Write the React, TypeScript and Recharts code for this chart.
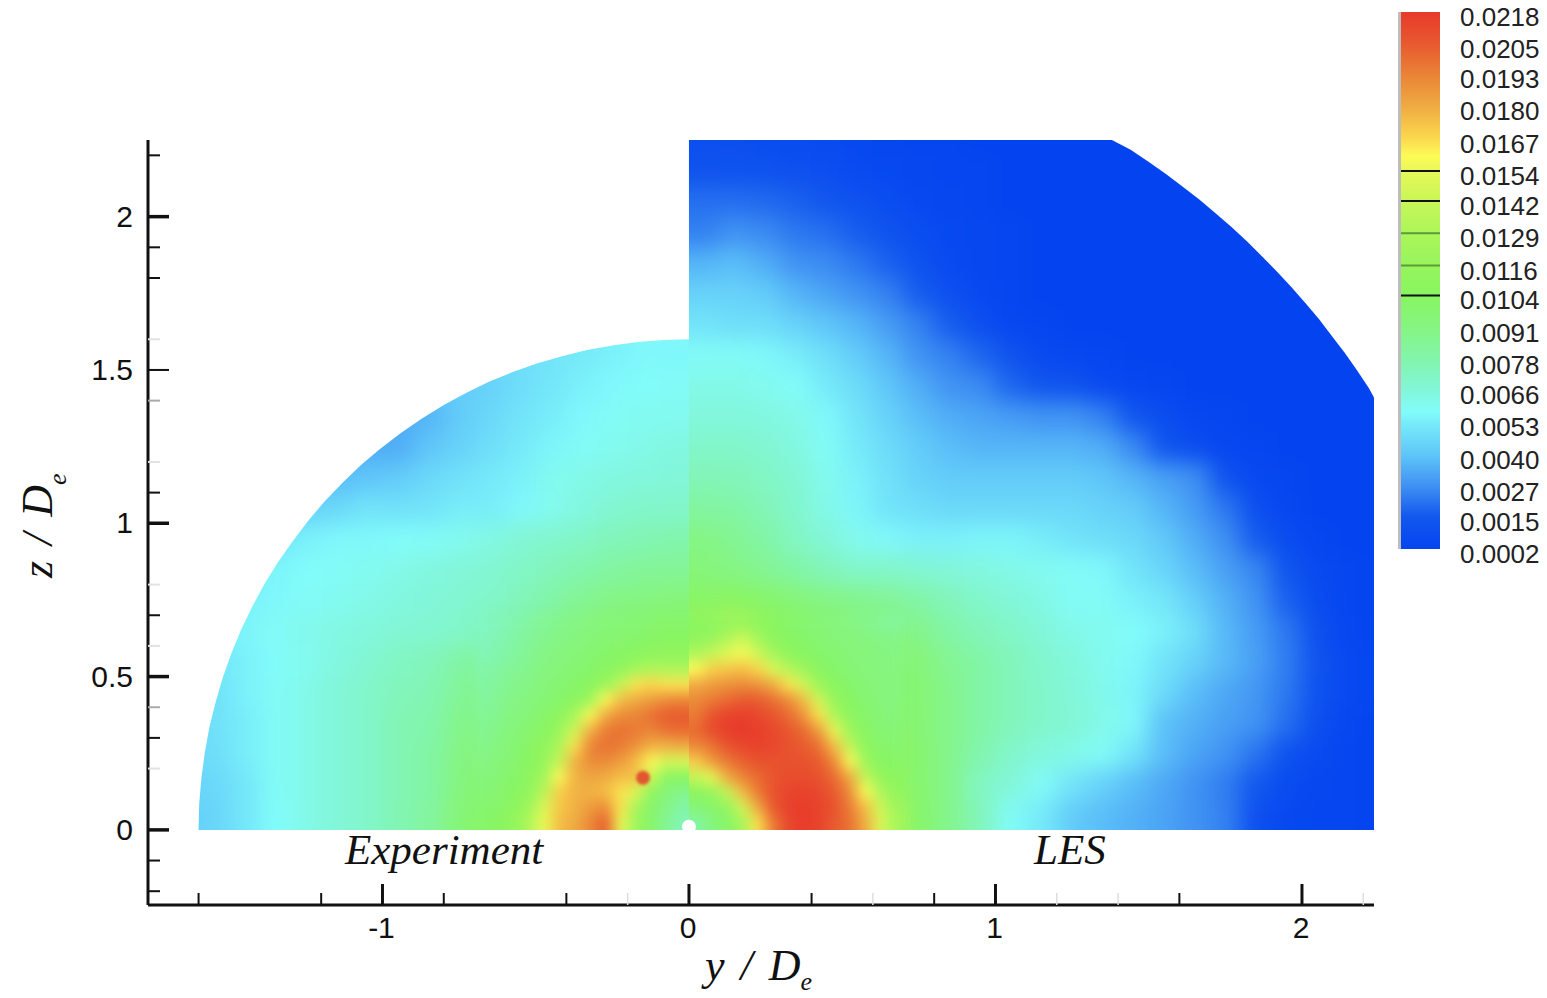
import React from 'react';
import { ScatterChart, Scatter, XAxis, YAxis, ReferenceDot, BarChart, Bar, ReferenceLine } from 'recharts';

// colour bar levels, top to bottom
const levels = [0.0218, 0.0205, 0.0193, 0.018, 0.0167, 0.0154, 0.0142, 0.0129, 0.0116, 0.0104, 0.0091, 0.0078, 0.0066, 0.0053, 0.004, 0.0027, 0.0015, 0.0002];
const legendDarkLines = [0.0154, 0.0142, 0.0104];
const legendMidLines = [0.0129, 0.0116];

// colour map (values in units of 1e-4)
const colorValues = [218, 205, 193, 180, 167, 160, 154, 142, 129, 116, 104, 91, 78, 66, 57, 53, 40, 27, 15, 2];
const colorStops = ['#e8392b', '#e85a2f', '#ea8236', '#efab42', '#fbd94d', '#fdfb58', '#e6f856', '#c8f658', '#acf65a', '#96f55c', '#88f560', '#85f582', '#82f5ad', '#82f6d8', '#82fcfb', '#78edf9', '#5fc6f9', '#3f8ff2', '#1258ee', '#0444f0'];

// axis ticks
const xStrong = [-1, 0, 1, 2];
const xMinor = [-1.6, -1.2, -0.8, -0.4, 0.4, 0.8, 1.6];
const xFaint = [-0.2, 0.6, 1.2, 1.4, 2.2];
const zStrong = [0, 0.5, 1, 1.5, 2];
const zMinor = [-0.2, -0.1, 0.3, 0.7, 1.1, 1.8, 1.9, 2.2];
const zGray = [0.4, 1.4];
const zFaint = [0.2, 0.6, 0.8, 1.2, 1.6];

// field values in units of 1e-4, one list per z row, 0.1 spacing
const expCols = [-0.05, -0.15, -0.25, -0.35, -0.45, -0.55, -0.65, -0.75, -0.85, -0.95, -1.05, -1.15, -1.25, -1.35, -1.45, -1.55, -1.65];
const expZs = [0.05, 0.15, 0.25, 0.35, 0.45, 0.55, 0.65, 0.75, 0.85, 0.95, 1.05, 1.15, 1.25, 1.35, 1.45, 1.55];
const exp005 = [75, 115, 195, 172, 165, 130, 100, 95, 82, 76, 70, 66, 62, 57, 51, 45, 43];
const exp015 = [85, 130, 180, 180, 160, 115, 100, 92, 80, 76, 70, 66, 62, 58, 51, 46, 44];
const exp025 = [165, 190, 185, 185, 125, 105, 98, 90, 80, 76, 70, 66, 62, 58, 53, 48, 46];
const exp035 = [205, 200, 195, 160, 115, 100, 96, 88, 78, 76, 70, 66, 62, 58, 53, 49, 46];
const exp045 = [150, 165, 165, 125, 108, 98, 92, 84, 76, 74, 70, 66, 62, 58, 54, 49, 47];
const exp055 = [115, 120, 115, 105, 100, 95, 88, 80, 74, 72, 68, 64, 60, 57, 54, 50, 48];
const exp065 = [100, 98, 96, 92, 85, 80, 75, 70, 68, 67, 65, 63, 61, 58, 55, 52, 50];
const exp075 = [94, 92, 90, 86, 80, 74, 70, 68, 66, 64, 62, 60, 58, 56, 54, 51, 48];
const exp085 = [85, 84, 82, 78, 74, 71, 68, 66, 64, 62, 60, 58, 57, 55, 53, 50, 48];
const exp095 = [78, 76, 74, 71, 69, 67, 63, 60, 58, 57, 56, 56, 54, 50, 48, 48, 48];
const exp105 = [70, 70, 68, 64, 60, 56, 53, 53, 50, 49, 50, 46, 44, 44, 44, 44, 44];
const exp115 = [66, 65, 64, 62, 60, 54, 52, 49, 46, 42, 40, 38, 38, 38, 38, 38, 38];
const exp125 = [64, 62, 60, 58, 55, 52, 48, 44, 40, 34, 34, 34, 34, 34, 34, 34, 34];
const exp135 = [60, 60, 58, 56, 53, 50, 46, 42, 36, 34, 34, 34, 34, 34, 34, 34, 34];
const exp145 = [58, 57, 56, 54, 51, 48, 44, 42, 40, 40, 40, 40, 40, 40, 40, 40, 40];
const exp155 = [56, 56, 54, 52, 50, 48, 46, 44, 44, 44, 44, 44, 44, 44, 44, 44, 44];
const expRows = [exp005, exp015, exp025, exp035, exp045, exp055, exp065, exp075, exp085, exp095, exp105, exp115, exp125, exp135, exp145, exp155];

const lesCols = [0.05, 0.15, 0.25, 0.35, 0.45, 0.55, 0.65, 0.75, 0.85, 0.95, 1.05, 1.15, 1.25, 1.35, 1.45, 1.55, 1.65, 1.75, 1.85, 1.95, 2.05, 2.15, 2.25];
const lesZs = [0.05, 0.15, 0.25, 0.35, 0.45, 0.55, 0.65, 0.75, 0.85, 0.95, 1.05, 1.15, 1.25, 1.35, 1.45, 1.55, 1.65, 1.75, 1.85, 1.95, 2.05, 2.15, 2.25];
const les005 = [85, 115, 185, 216, 203, 175, 130, 100, 88, 74, 58, 52, 42, 38, 35, 32, 28, 24, 10, 5, 3, 3, 2];
const les015 = [95, 120, 190, 214, 208, 160, 118, 98, 88, 72, 66, 58, 50, 44, 38, 33, 28, 23, 15, 7, 4, 3, 2];
const les025 = [180, 205, 212, 212, 205, 150, 112, 98, 88, 78, 70, 65, 62, 58, 50, 38, 32, 28, 21, 11, 6, 3, 2];
const les035 = [212, 217, 216, 208, 170, 125, 110, 96, 88, 80, 74, 70, 67, 62, 56, 39, 35, 31, 28, 20, 9, 4, 2];
const les045 = [195, 205, 195, 165, 125, 100, 100, 96, 88, 80, 74, 70, 66, 61, 55, 47, 38, 33, 29, 22, 11, 5, 3];
const les055 = [150, 185, 150, 118, 105, 98, 98, 95, 86, 80, 74, 69, 65, 60, 56, 50, 44, 37, 31, 23, 12, 5, 3];
const les065 = [125, 140, 115, 102, 98, 92, 93, 88, 80, 74, 71, 66, 62, 60, 57, 54, 48, 37, 30, 22, 10, 4, 2];
const les075 = [102, 105, 100, 95, 90, 88, 85, 80, 74, 70, 66, 63, 58, 58, 54, 51, 43, 35, 28, 17, 7, 3, 2];
const les085 = [94, 90, 86, 80, 74, 70, 70, 68, 66, 64, 62, 60, 58, 56, 50, 45, 38, 31, 25, 13, 6, 3, 2];
const les095 = [90, 86, 80, 72, 66, 60, 56, 54, 54, 55, 55, 53, 50, 48, 46, 41, 34, 27, 16, 7, 3, 2, 2];
const les105 = [82, 80, 75, 69, 62, 55, 50, 48, 46, 46, 46, 46, 46, 44, 42, 36, 30, 22, 9, 4, 2, 2, 2];
const les115 = [75, 74, 72, 67, 60, 54, 49, 44, 42, 42, 42, 42, 42, 40, 36, 31, 27, 12, 5, 3, 2, 2, 2];
const les125 = [70, 70, 68, 64, 58, 52, 47, 42, 38, 36, 36, 36, 36, 34, 26, 14, 8, 4, 3, 2, 2, 2, 2];
const les135 = [65, 65, 64, 62, 56, 50, 44, 38, 34, 32, 30, 28, 28, 24, 14, 8, 4, 3, 2, 2, 2, 2, 2];
const les145 = [62, 62, 60, 57, 52, 47, 40, 34, 28, 26, 18, 14, 12, 6, 4, 3, 2, 2, 2, 2, 2, 2, 2];
const les155 = [58, 58, 56, 53, 48, 42, 36, 28, 24, 18, 12, 6, 4, 3, 2, 2, 2, 2, 2, 2, 2, 2, 2];
const les165 = [50, 48, 48, 44, 40, 36, 30, 24, 16, 9, 4, 3, 2, 2, 2, 2, 2, 2, 2, 2, 2, 2, 2];
const les175 = [44, 44, 42, 36, 32, 28, 24, 16, 10, 5, 3, 2, 2, 2, 2, 2, 2, 2, 2, 2, 2, 2, 2];
const les185 = [36, 38, 34, 28, 26, 22, 17, 11, 6, 4, 3, 2, 2, 2, 2, 2, 2, 2, 2, 2, 2, 2, 2];
const les195 = [24, 28, 26, 22, 20, 16, 12, 8, 5, 4, 3, 2, 2, 2, 2, 2, 2, 2, 2, 2, 2, 2, 2];
const les205 = [20, 20, 19, 17, 14, 11, 8, 5, 4, 3, 2, 2, 2, 2, 2, 2, 2, 2, 2, 2, 2, 2, 2];
const les215 = [12, 11, 11, 10, 9, 6, 5, 4, 3, 3, 2, 2, 2, 2, 2, 2, 2, 2, 2, 2, 2, 2, 2];
const les225 = [9, 9, 8, 7, 6, 5, 4, 3, 3, 2, 2, 2, 2, 2, 2, 2, 2, 2, 2, 2, 2, 2, 2];
const lesRows = [les005, les015, les025, les035, les045, les055, les065, les075, les085, les095, les105, les115, les125, les135, les145, les155, les165, les175, les185, les195, les205, les215, les225];

// finer readings around the ring, 0.05 spacing
const fineZs = [0.025, 0.075, 0.125, 0.175, 0.225, 0.275, 0.325, 0.375, 0.425, 0.475, 0.525, 0.575, 0.625, 0.675];
const fineLesCols = [0.025, 0.075, 0.125, 0.175, 0.225, 0.275, 0.325, 0.375, 0.425, 0.475, 0.525, 0.575, 0.625, 0.675];
const fineLes0 = [80, 92, 100, 125, 165, 195, 212, 217, 214, 205, 198, 180, 150, 125];
const fineLes1 = [95, 100, 110, 145, 180, 205, 215, 217, 214, 208, 195, 175, 145, 120];
const fineLes2 = [105, 115, 140, 175, 195, 208, 213, 215, 212, 205, 190, 160, 130, 112];
const fineLes3 = [140, 155, 180, 192, 200, 207, 210, 210, 208, 200, 180, 140, 115, 105];
const fineLes4 = [170, 185, 195, 203, 208, 208, 208, 208, 205, 190, 160, 120, 105, 100];
const fineLes5 = [190, 197, 207, 212, 215, 212, 208, 205, 198, 175, 140, 110, 100, 97];
const fineLes6 = [200, 210, 216, 218, 216, 212, 207, 200, 185, 155, 120, 105, 97, 95];
const fineLes7 = [195, 208, 214, 216, 212, 208, 200, 188, 165, 130, 108, 100, 95, 93];
const fineLes8 = [190, 195, 200, 205, 205, 198, 190, 175, 145, 115, 104, 97, 94, 92];
const fineLes9 = [180, 185, 188, 190, 188, 180, 165, 145, 120, 105, 100, 95, 94, 92];
const fineLes10 = [160, 170, 172, 175, 168, 150, 135, 120, 105, 100, 96, 94, 93, 92];
const fineLes11 = [130, 140, 152, 158, 145, 125, 110, 104, 100, 97, 95, 94, 92, 90];
const fineLes12 = [112, 118, 130, 145, 125, 110, 104, 100, 97, 95, 94, 92, 90, 90];
const fineLes13 = [105, 108, 112, 115, 110, 104, 100, 97, 95, 93, 91, 88, 85, 82];
const fineLesRows = [fineLes0, fineLes1, fineLes2, fineLes3, fineLes4, fineLes5, fineLes6, fineLes7, fineLes8, fineLes9, fineLes10, fineLes11, fineLes12, fineLes13];

const fineExpCols = [-0.025, -0.075, -0.125, -0.175, -0.225, -0.275, -0.325, -0.375, -0.425, -0.475, -0.525, -0.575, -0.625, -0.675];
const fineExp0 = [75, 85, 100, 120, 155, 205, 190, 180, 175, 155, 130, 112, 105, 100];
const fineExp1 = [80, 90, 100, 125, 165, 190, 185, 178, 172, 150, 120, 108, 100, 97];
const fineExp2 = [88, 95, 108, 150, 165, 175, 178, 178, 170, 135, 112, 103, 98, 95];
const fineExp3 = [105, 105, 145, 175, 175, 180, 182, 178, 160, 122, 108, 100, 96, 93];
const fineExp4 = [150, 145, 160, 175, 185, 190, 190, 178, 140, 115, 105, 98, 94, 90];
const fineExp5 = [180, 178, 178, 188, 195, 198, 192, 165, 128, 112, 102, 96, 92, 88];
const fineExp6 = [200, 198, 192, 195, 198, 195, 178, 145, 118, 105, 98, 94, 90, 86];
const fineExp7 = [205, 205, 198, 192, 190, 180, 160, 125, 108, 100, 95, 92, 88, 84];
const fineExp8 = [192, 190, 185, 180, 175, 160, 120, 106, 100, 96, 92, 90, 86, 82];
const fineExp9 = [165, 165, 168, 165, 140, 118, 105, 100, 97, 94, 90, 88, 84, 80];
const fineExp10 = [130, 130, 132, 125, 112, 105, 100, 97, 94, 92, 88, 85, 82, 78];
const fineExp11 = [112, 112, 110, 106, 102, 100, 97, 95, 92, 90, 86, 82, 78, 75];
const fineExp12 = [104, 104, 102, 100, 98, 97, 95, 92, 90, 88, 84, 80, 76, 73];
const fineExp13 = [100, 100, 98, 96, 95, 94, 92, 90, 88, 85, 81, 77, 74, 71];
const fineExpRows = [fineExp0, fineExp1, fineExp2, fineExp3, fineExp4, fineExp5, fineExp6, fineExp7, fineExp8, fineExp9, fineExp10, fineExp11, fineExp12, fineExp13];

// outlines of the two measured regions
const expOutlineY = [0, -1.6, -1.598, -1.591, -1.58, -1.565, -1.545, -1.522, -1.494, -1.462, -1.426, -1.386, -1.342, -1.294, -1.243, -1.189, -1.131, -1.071, -1.007, -0.94, -0.871, -0.8, -0.726, -0.651, -0.573, -0.494, -0.414, -0.333, -0.25, -0.167, -0.084, 0];
const expOutlineZ = [0, 0, 0.084, 0.167, 0.25, 0.333, 0.414, 0.494, 0.573, 0.651, 0.726, 0.8, 0.871, 0.94, 1.007, 1.071, 1.131, 1.189, 1.243, 1.294, 1.342, 1.386, 1.426, 1.462, 1.494, 1.522, 1.545, 1.565, 1.58, 1.591, 1.598, 1.6];
const lesOutlineY = [0, 0, 1.38, 1.441, 1.498, 1.555, 1.61, 1.665, 1.718, 1.77, 1.821, 1.87, 1.918, 1.966, 2.011, 2.056, 2.098, 2.14, 2.18, 2.218, 2.235, 2.235];
const lesOutlineZ = [0, 2.25, 2.25, 2.218, 2.18, 2.14, 2.098, 2.056, 2.011, 1.966, 1.919, 1.87, 1.821, 1.77, 1.718, 1.665, 1.61, 1.555, 1.498, 1.441, 1.41, 0];

const SANS = '"Liberation Sans", Arial, sans-serif';
const SERIF = '"Liberation Serif", "Times New Roman", serif';
const PX_PER_UNIT = 306.5;
const EDGE_PX = 60;

const hexToRgb = (hex: string) => [1, 3, 5].map((i) => parseInt(hex.slice(i, i + 2), 16));

// colour for a field value, blended between the stops of the bar
const colorOf = (value: number) => {
  for (let i = 0; i < colorValues.length - 1; i++) {
    if (value <= colorValues[i] && value >= colorValues[i + 1]) {
      const t = (value - colorValues[i + 1]) / (colorValues[i] - colorValues[i + 1]);
      const hi = hexToRgb(colorStops[i]);
      const lo = hexToRgb(colorStops[i + 1]);
      const c = hi.map((h, k) => Math.round(lo[k] + (h - lo[k]) * t));
      return `rgb(${c[0]},${c[1]},${c[2]})`;
    }
  }
  return value > colorValues[0] ? colorStops[0] : colorStops[colorStops.length - 1];
};

// fine tables only run on at the axis sides, the coarse ones on all four
const buildCells = (cols: number[], zs: number[], rows: number[][], step: number, allEdges: boolean) =>
  rows.flatMap((row, r) =>
    row.map((value, c) => ({
      y: cols[c],
      z: zs[r],
      value,
      step,
      first: c === 0,
      last: allEdges && c === row.length - 1,
      bottom: r === 0,
      top: allEdges && r === rows.length - 1,
    })),
  );

const zipOutline = (ys: number[], zs: number[]) => ys.map((y, i) => ({ y, z: zs[i] }));

const expCells = buildCells(expCols, expZs, expRows, 0.1, true);
const lesCells = buildCells(lesCols, lesZs, lesRows, 0.1, true);
const fineExpCells = buildCells(fineExpCols, fineZs, fineExpRows, 0.05, false);
const fineLesCells = buildCells(fineLesCols, fineZs, fineLesRows, 0.05, false);
const legendData = [{ name: 'levels', range: [levels[levels.length - 1], levels[0]] }];

// each cell is a rect; cells on the table edge run on outward so the blur does not fade there
const FieldCell = ({ cx, cy, payload }: any) => {
  const half = (payload.step * PX_PER_UNIT) / 2 + 0.5;
  const leftEdge = payload.y < 0 ? payload.last : payload.first;
  const rightEdge = payload.y < 0 ? payload.first : payload.last;
  const x0 = cx - half - (leftEdge ? EDGE_PX : 0);
  const x1 = cx + half + (rightEdge ? EDGE_PX : 0);
  const y0 = cy - half - (payload.top ? EDGE_PX : 0);
  const y1 = cy + half + (payload.bottom ? EDGE_PX : 0);
  return <rect x={x0} y={y0} width={x1 - x0} height={y1 - y0} fill={colorOf(payload.value)} />;
};

const clipLine = (id: string) => (props: any) => (
  <clipPath id={id}>
    <path d={'M' + props.points.map((p: any) => `${p.x},${p.y}`).join('L') + 'Z'} />
  </clipPath>
);

const XTick = ({ x, y, payload }: any) => {
  const v = payload.value;
  const strong = xStrong.includes(v);
  const faint = xFaint.includes(v);
  return (
    <g>
      <line x1={x} x2={x} y1={y} y2={y - (strong ? 21 : 12)} stroke={faint ? '#dddddd' : '#111111'} strokeWidth={strong ? 3 : faint ? 1.5 : 2} />
      {strong && (
        <text x={x - 1} y={y + 33} textAnchor="middle" fontFamily={SANS} fontSize={30} fill="#111111">
          {v}
        </text>
      )}
    </g>
  );
};

const ZTick = ({ x, y, payload }: any) => {
  const v = payload.value;
  const strong = zStrong.includes(v);
  const thick = v === 0 || v === 1 || v === 2 || v === 0.5;
  const color = zFaint.includes(v) ? '#e2e2e2' : zGray.includes(v) ? '#aaaaaa' : '#111111';
  return (
    <g>
      <line x1={x} x2={x + (strong ? 21 : 12)} y1={y} y2={y} stroke={color} strokeWidth={thick ? 3.5 : 2} />
      {strong && (
        <text x={x - 15} y={y + 10} textAnchor="end" fontFamily={SANS} fontSize={30} fill="#111111">
          {v}
        </text>
      )}
    </g>
  );
};

const LegendTick = ({ x, y, payload }: any) => (
  <text x={x} y={y + 14} fontFamily={SANS} fontSize={26} fill="#222222">
    {payload.value.toFixed(4)}
  </text>
);

const FieldChart = () => (
  <ScatterChart width={1547} height={998} margin={{ top: 140, right: 173, bottom: 33, left: 48 }}>
    <defs>
      <filter id="coarseBlur" filterUnits="userSpaceOnUse" x={0} y={0} width={1547} height={998} colorInterpolationFilters="sRGB">
        <feGaussianBlur stdDeviation={11} />
      </filter>
      <filter id="fineBlur" filterUnits="userSpaceOnUse" x={0} y={0} width={1547} height={998} colorInterpolationFilters="sRGB">
        <feGaussianBlur stdDeviation={7} />
      </filter>
    </defs>
    <XAxis
      type="number"
      dataKey="y"
      domain={[-1.765, 2.235]}
      allowDataOverflow
      ticks={[...xStrong, ...xMinor, ...xFaint]}
      interval={0}
      height={60}
      tickSize={0}
      tickMargin={0}
      tick={<XTick />}
      axisLine={{ stroke: '#111111', strokeWidth: 3 }}
      tickLine={false}
    />
    <YAxis
      type="number"
      dataKey="z"
      domain={[-0.245, 2.25]}
      allowDataOverflow
      ticks={[...zStrong, ...zMinor, ...zGray, ...zFaint]}
      interval={0}
      width={100}
      tickSize={0}
      tickMargin={0}
      tick={<ZTick />}
      axisLine={{ stroke: '#111111', strokeWidth: 3 }}
      tickLine={false}
    />
    <Scatter data={zipOutline(expOutlineY, expOutlineZ)} line={clipLine('expClip')} shape={() => null} isAnimationActive={false} />
    <Scatter data={zipOutline(lesOutlineY, lesOutlineZ)} line={clipLine('lesClip')} shape={() => null} isAnimationActive={false} />
    <Scatter className="field-exp" data={expCells} shape={(p: any) => <FieldCell {...p} />} isAnimationActive={false} />
    <Scatter className="field-les" data={lesCells} shape={(p: any) => <FieldCell {...p} />} isAnimationActive={false} />
    <Scatter className="fine-exp" data={fineExpCells} shape={(p: any) => <FieldCell {...p} />} isAnimationActive={false} />
    <Scatter className="fine-les" data={fineLesCells} shape={(p: any) => <FieldCell {...p} />} isAnimationActive={false} />
    <ReferenceDot className="red-spot" x={-0.15} y={0.17} r={7} fill="#e2552f" stroke="none" ifOverflow="visible" />
    <ReferenceDot x={0} y={0.01} r={7} fill="#ffffff" stroke="none" ifOverflow="visible" />
    <text x={345} y={864} fontFamily={SERIF} fontStyle="italic" fontSize={43} fill="#111111">
      Experiment
    </text>
    <text x={1034} y={864} fontFamily={SERIF} fontStyle="italic" fontSize={43} fill="#111111">
      LES
    </text>
    <text x={705} y={980} fontFamily={SERIF} fontStyle="italic" fontSize={44} wordSpacing={5} fill="#111111">
      y / D
      <tspan dy={10} fontSize={26}>
        e
      </tspan>
    </text>
    <text transform="rotate(-90 52 578)" x={52} y={578} fontFamily={SERIF} fontStyle="italic" fontSize={44} wordSpacing={5} fill="#111111">
      z / D
      <tspan dy={14} fontSize={26}>
        e
      </tspan>
    </text>
  </ScatterChart>
);

const LegendChart = () => (
  <BarChart width={149} height={998} data={legendData} barCategoryGap={0} margin={{ top: 12, right: 0, bottom: 449, left: 3 }}>
    <defs>
      <linearGradient id="levelGradient" x1="0" y1="0" x2="0" y2="1">
        {colorStops.map((color, i) => (
          <stop key={color} offset={(colorValues[0] - colorValues[i]) / (colorValues[0] - colorValues[colorValues.length - 1])} stopColor={color} />
        ))}
      </linearGradient>
    </defs>
    <XAxis dataKey="name" hide />
    <YAxis
      orientation="right"
      type="number"
      domain={[levels[levels.length - 1], levels[0]]}
      ticks={levels}
      interval={0}
      width={107}
      tickSize={0}
      tickMargin={20}
      tick={<LegendTick />}
      axisLine={false}
      tickLine={false}
    />
    <Bar dataKey="range" fill="url(#levelGradient)" isAnimationActive={false} />
    {legendDarkLines.map((v) => (
      <ReferenceLine key={v} y={v} stroke="#111111" strokeWidth={2} />
    ))}
    {legendMidLines.map((v) => (
      <ReferenceLine key={v} y={v} stroke="#5f9a3a" strokeWidth={2} />
    ))}
    <rect x={0} y={12} width={3} height={537} fill="#bdbdbd" />
  </BarChart>
);

export default function App() {
  return (
    <div style={{ position: 'absolute', left: 0, top: 0, width: 1547, height: 998, background: '#ffffff', overflow: 'hidden' }}>
      <style>{`
        .field-exp { filter: url(#coarseBlur); clip-path: url(#expClip); }
        .field-les { filter: url(#coarseBlur); clip-path: url(#lesClip); }
        .fine-exp { filter: url(#fineBlur); clip-path: url(#expClip); }
        .fine-les { filter: url(#fineBlur); clip-path: url(#lesClip); }
        .red-spot { filter: blur(1.5px); }
      `}</style>
      <FieldChart />
      <div style={{ position: 'absolute', left: 1398, top: 0 }}>
        <LegendChart />
      </div>
    </div>
  );
}
